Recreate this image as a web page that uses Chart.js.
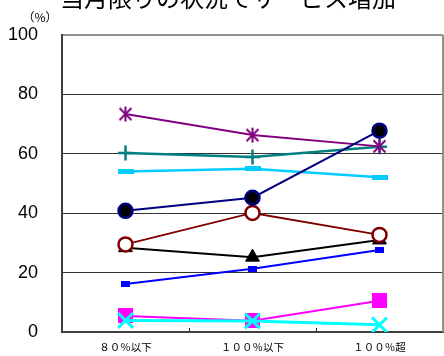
<!DOCTYPE html>
<html>
<head>
<meta charset="utf-8">
<script src="https://cdn.jsdelivr.net/npm/chart.js@4/dist/chart.umd.min.js"></script>
<style>
  html, body { margin: 0; padding: 0; background: #fff; }
  #wrap { width: 444px; height: 356px; }
</style>
</head>
<body>
<div id="wrap"><canvas id="lineChart"></canvas></div>
<script>
// categories and tick labels
var categories = ['８０％以下', '１００％以下', '１００％超'];
var yTicks = [0, 20, 40, 60, 80, 100];
var chartTitle = '当月限りの状況でサービス増加';

// series values (%)
var navyValues = [40.8, 45.2, 67.8];
var purpleValues = [73.4, 66.3, 62.5];
var tealValues = [60.3, 58.9, 62.4];
var skyValues = [54.0, 55.0, 52.1];
var maroonValues = [29.5, 40.1, 32.7];
var blackValues = [28.4, 25.2, 31.0];
var blueValues = [16.2, 21.3, 27.6];
var cyanValues = [3.9, 3.7, 2.4];
var magentaValues = [5.4, 3.8, 10.5];

// small canvases used as custom point markers
function marker(w, h, draw) {
    var c = document.createElement('canvas');
    c.width = w;
    c.height = h;
    draw(c.getContext('2d'), w, h);
    return c;
}

var asterisk = marker(17, 17, function(g, w, h) {
    g.strokeStyle = '#800080';
    g.lineWidth = 2;
    g.beginPath();
    g.moveTo(w / 2, 1); g.lineTo(w / 2, h - 1);
    g.moveTo(2.5, 2.5); g.lineTo(w - 2.5, h - 2.5);
    g.moveTo(w - 2.5, 2.5); g.lineTo(2.5, h - 2.5);
    g.stroke();
});
var skyDash = marker(16, 5, function(g, w, h) {
    g.fillStyle = '#00CCFF';
    g.fillRect(0, 0, w, h);
});
var blueRect = marker(9, 6, function(g, w, h) {
    g.fillStyle = '#0000FF';
    g.fillRect(0, 0, w, h);
});
var magentaSquare = marker(15, 15, function(g, w, h) {
    g.fillStyle = '#FF00FF';
    g.fillRect(0, 0, w, h);
});

// title, unit label, right border and x tick marks
var decorations = {
    id: 'decorations',
    afterDraw: function(chart) {
        var ctx = chart.ctx;
        var area = chart.chartArea;
        var x = chart.scales.x;
        ctx.save();
        ctx.fillStyle = '#000';
        ctx.font = '24px "Noto Sans CJK JP"';
        ctx.textAlign = 'center';
        ctx.textBaseline = 'alphabetic';
        ctx.fillText(chartTitle, 228, 7);

        ctx.font = '12px "Noto Sans CJK JP"';
        ctx.fillText('（%）', 40, 22);

        ctx.strokeStyle = '#909090';
        ctx.lineWidth = 2;
        ctx.beginPath();
        ctx.moveTo(area.right, area.top);
        ctx.lineTo(area.right, area.bottom);
        ctx.stroke();

        ctx.strokeStyle = '#333';
        ctx.lineWidth = 1;
        ctx.beginPath();
        for (var i = 1; i < categories.length; i++) {
            var px = Math.round((x.getPixelForTick(i - 1) + x.getPixelForTick(i)) / 2) + 0.5;
            ctx.moveTo(px, area.bottom);
            ctx.lineTo(px, area.bottom - 4);
        }
        ctx.stroke();
        ctx.restore();
    }
};

var ctx = document.getElementById('lineChart').getContext('2d');
var lineChart = new Chart(ctx, {
    type: 'line',
    data: {
        labels: categories,
        datasets: [{
            data: navyValues,
            borderColor: '#000080',
            borderWidth: 2,
            pointStyle: 'circle',
            pointRadius: 7,
            pointBackgroundColor: '#000000',
            pointBorderColor: '#000080',
            pointBorderWidth: 2.5
        }, {
            data: purpleValues,
            borderColor: '#800080',
            borderWidth: 2,
            pointStyle: asterisk
        }, {
            data: tealValues,
            borderColor: '#008080',
            borderWidth: 2.5,
            pointStyle: 'cross',
            pointRadius: 7.5,
            pointBorderColor: '#008080',
            pointBorderWidth: 2.5
        }, {
            data: skyValues,
            borderColor: '#00CCFF',
            borderWidth: 2.5,
            pointStyle: skyDash
        }, {
            data: maroonValues,
            borderColor: '#800000',
            borderWidth: 2,
            pointStyle: 'circle',
            pointRadius: 7,
            pointBackgroundColor: '#ffffff',
            pointBorderColor: '#800000',
            pointBorderWidth: 2.5
        }, {
            data: blackValues,
            borderColor: '#000000',
            borderWidth: 2,
            pointStyle: 'triangle',
            pointRadius: 8,
            pointBackgroundColor: '#000000',
            pointBorderColor: '#000000',
            pointBorderWidth: 1
        }, {
            data: blueValues,
            borderColor: '#0000FF',
            borderWidth: 2,
            pointStyle: blueRect
        }, {
            data: cyanValues,
            borderColor: '#00FFFF',
            borderWidth: 3,
            pointStyle: 'crossRot',
            pointRadius: 10.5,
            pointBorderColor: '#00FFFF',
            pointBorderWidth: 3
        }, {
            data: magentaValues,
            borderColor: '#FF00FF',
            borderWidth: 2,
            pointStyle: magentaSquare
        }]
    },
    options: {
        responsive: true,
        maintainAspectRatio: false,
        animation: false,
        layout: {
            autoPadding: false,
            padding: { top: 35, right: 1, left: 0, bottom: 0 }
        },
        plugins: {
            legend: { display: false },
            tooltip: { enabled: false }
        },
        elements: {
            line: { tension: 0, fill: false }
        },
        scales: {
            x: {
                offset: true,
                grid: { display: false, drawTicks: false },
                border: { display: true, color: '#404040', width: 2 },
                ticks: {
                    color: '#000',
                    padding: 9,
                    maxRotation: 0,
                    font: { family: '"Noto Sans CJK JP"', size: 10.5 }
                },
                afterFit: function(scale) {
                    scale.height = 24;
                    scale.paddingLeft = 0;
                    scale.paddingRight = 0;
                }
            },
            y: {
                min: 0,
                max: 100,
                afterBuildTicks: function(scale) {
                    scale.ticks = yTicks.map(function(v) { return { value: v }; });
                },
                grid: {
                    drawTicks: false,
                    color: function(c) {
                        if (c.tick.value === 0) return 'rgba(0,0,0,0)';
                        if (c.tick.value === 100) return '#909090';
                        return '#333333';
                    },
                    lineWidth: function(c) {
                        return c.tick.value === 100 ? 2 : 1;
                    }
                },
                border: { display: true, color: '#404040', width: 2 },
                ticks: {
                    color: '#000',
                    padding: 24,
                    font: { family: '"Liberation Sans", Arial, sans-serif', size: 18 }
                },
                afterFit: function(scale) {
                    scale.width = 62;
                    scale.paddingTop = 0;
                    scale.paddingBottom = 0;
                }
            }
        }
    },
    plugins: [decorations]
});
</script>
</body>
</html>
